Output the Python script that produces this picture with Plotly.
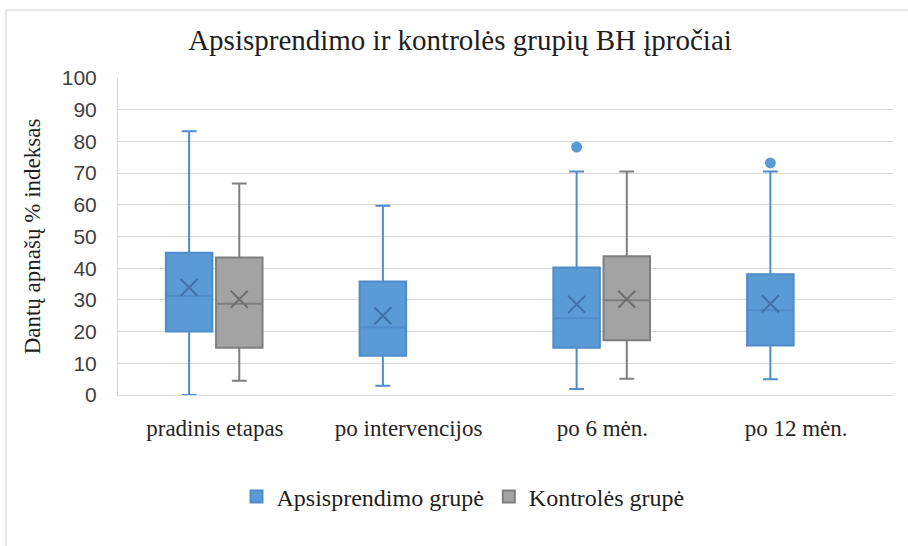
import plotly.graph_objects as go

# Time points (x categories)
categories = ["pradinis etapas", "po intervencijos", "po 6 mėn.", "po 12 mėn."]
y_ticks = [0, 10, 20, 30, 40, 50, 60, 70, 80, 90, 100]

# Apsisprendimo grupė: five-number summary, mean and outliers per time point
dec_low = [0.0, 2.9, 1.9, 5.0]
dec_q1 = [20.0, 12.4, 14.9, 15.6]
dec_median = [31.3, 21.4, 24.2, 26.7]
dec_q3 = [44.9, 35.8, 40.2, 38.1]
dec_high = [83.2, 59.7, 70.5, 70.5]
dec_mean = [33.9, 25.0, 28.6, 28.8]
dec_outliers = [[], [], [78.2], [73.2]]

# Kontrolės grupė: measured only at baseline and after 6 months
ctl_low = [4.5, None, 5.1, None]
ctl_q1 = [14.9, None, 17.3, None]
ctl_median = [28.8, None,29.9, None]
ctl_q3 = [43.4, None, 43.8, None]
ctl_high = [66.7, None, 70.5, None]
ctl_mean = [30.2, None, 30.2, None]

BLUE_FILL = "#5B9BD5"
BLUE_LINE = "#4F8CC9"
BLUE_MEAN = "#3E72A8"
GRAY_FILL = "#A3A3A3"
GRAY_LINE = "#7F7F7F"
GRAY_MEAN = "#6E6E6E"

SERIF = "Liberation Serif"
SANS = "Liberation Sans"

BOX_W = 0.24
OFFSETS = {"dec": -0.133, "ctl": 0.126}

fig = go.Figure()


def add_group(name, key, low, q1, med, q3, high, mean, fill, line, mean_col, outliers=None):
    idx = [i for i, v in enumerate(med) if v is not None]
    xs = [i + OFFSETS[key] for i in idx]
    fig.add_trace(go.Box(
        name=name,
        x=xs,
        lowerfence=[low[i] for i in idx],
        q1=[q1[i] for i in idx],
        median=[med[i] for i in idx],
        q3=[q3[i] for i in idx],
        upperfence=[high[i] for i in idx],
        width=BOX_W,
        whiskerwidth=0.32,
        fillcolor=fill,
        line=dict(color=line, width=2),
        boxpoints=False,
        hoverinfo="skip",
        showlegend=True,
    ))
    fig.add_trace(go.Scatter(
        x=xs,
        y=[mean[i] for i in idx],
        mode="markers",
        marker=dict(symbol="x-thin", size=17, line=dict(color=mean_col, width=2)),
        showlegend=False,
        hoverinfo="skip",
    ))
    if outliers:
        ox, oy = [], []
        for i, pts in enumerate(outliers):
            for p in pts:
                ox.append(i + OFFSETS[key])
                oy.append(p)
        fig.add_trace(go.Scatter(
            x=ox, y=oy, mode="markers",
            marker=dict(symbol="circle", size=11, color=fill, line=dict(width=0)),
            showlegend=False, hoverinfo="skip",
        ))


add_group("Apsisprendimo grupė", "dec", dec_low, dec_q1, dec_median, dec_q3,
          dec_high, dec_mean, BLUE_FILL, BLUE_LINE, BLUE_MEAN, dec_outliers)
add_group("Kontrolės grupė", "ctl", ctl_low, ctl_q1, ctl_median, ctl_q3,
          ctl_high, ctl_mean, GRAY_FILL, GRAY_LINE, GRAY_MEAN)

# Plot area spans 118..893 px horizontally and 78..395 px vertically
L, R, T, B = 118, 15, 78, 151
W, H = 908, 546
pw, ph = W - L - R, H - T - B

# Outer chart frame (left and top edges visible)
fig.add_shape(type="rect", xref="paper", yref="paper",
              x0=(6 - L) / pw, x1=(W + 20 - L) / pw,
              y0=-(H + 20 - T - ph) / ph, y1=(H - B - 5 - (H - B - ph)) / ph + (T - 5) / ph,
              line=dict(color="#D0D0D0", width=1), fillcolor="rgba(0,0,0,0)", layer="below")

fig.update_layout(
    width=W, height=H,
    margin=dict(l=L, r=R, t=T, b=B),
    paper_bgcolor="white",
    plot_bgcolor="white",
    boxmode="overlay",
    title=dict(text="Apsisprendimo ir kontrolės grupių BH įpročiai",
               font=dict(family=SERIF, size=29, color="#1E1E1E"),
               x=460 / W, xanchor="center", xref="container",
               y=1 - 40 / H, yanchor="middle", yref="container"),
    xaxis=dict(
        range=[-0.5, 3.5],
        tickmode="array",
        tickvals=list(range(len(categories))),
        ticktext=categories,
        tickfont=dict(family=SERIF, size=23, color="#262626"),
        showgrid=False, zeroline=False,
        showline=True, linecolor="#D9D9D9", linewidth=1,
        ticks="", ticklabelstandoff=12,
        fixedrange=True,
    ),
    yaxis=dict(
        range=[0, 100],
        tickmode="array",
        tickvals=y_ticks,
        tickfont=dict(family=SANS, size=21, color="#404040"),
        showgrid=True, gridcolor="#D9D9D9", gridwidth=1,
        zeroline=False,
        showline=True, linecolor="#D9D9D9", linewidth=1,
        ticks="", ticklabelstandoff=16,
        title=dict(text="Dantų apnašų % indeksas",
                   font=dict(family=SERIF, size=23, color="#1E1E1E"),
                   standoff=14),
        fixedrange=True,
    ),
    legend=dict(
        orientation="h",
        x=463 / W, xanchor="center", xref="container",
        y=1 - 497 / H, yanchor="middle", yref="container",
        font=dict(family=SERIF, size=24, color="#1E1E1E"),
        itemwidth=30,
        tracegroupgap=0,
    ),
    showlegend=True,
)

fig.write_html("out.html")
